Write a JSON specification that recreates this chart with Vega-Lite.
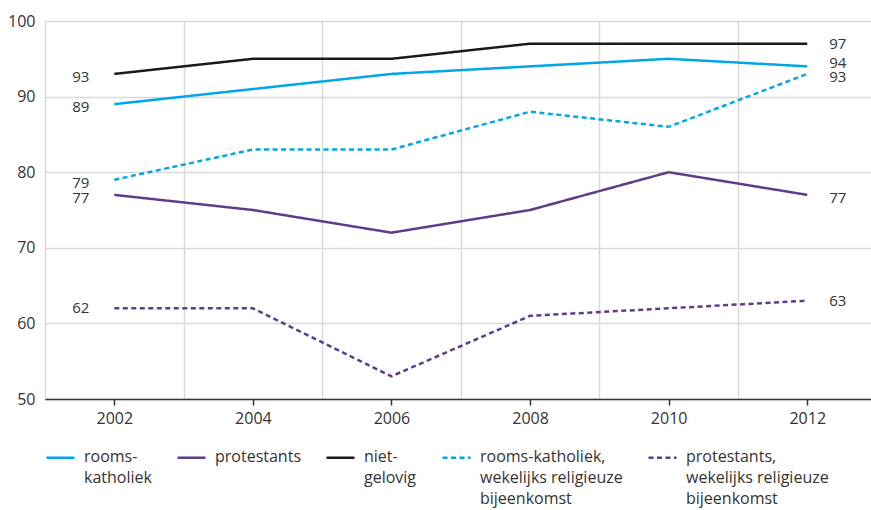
{
  "$schema": "https://vega.github.io/schema/vega-lite/v6.json",
  "width": 826,
  "height": 378,
  "autosize": {"type": "none"},
  "padding": {"left": 45, "top": 21, "right": 0, "bottom": 111},
  "config": {
    "view": {"stroke": null},
    "font": "Open Sans",
    "axis": {"labelFont": "Open Sans", "labelFontSize": 16, "labelColor": "#333333", "gridColor": "#d9d9d9", "gridWidth": 1.5}
  },
  "data": {
    "values": [
      {"year": 2002, "series": "rooms-katholiek", "value": 89},
      {"year": 2004, "series": "rooms-katholiek", "value": 91},
      {"year": 2006, "series": "rooms-katholiek", "value": 93},
      {"year": 2008, "series": "rooms-katholiek", "value": 94},
      {"year": 2010, "series": "rooms-katholiek", "value": 95},
      {"year": 2012, "series": "rooms-katholiek", "value": 94},
      {"year": 2002, "series": "protestants", "value": 77},
      {"year": 2004, "series": "protestants", "value": 75},
      {"year": 2006, "series": "protestants", "value": 72},
      {"year": 2008, "series": "protestants", "value": 75},
      {"year": 2010, "series": "protestants", "value": 80},
      {"year": 2012, "series": "protestants", "value": 77},
      {"year": 2002, "series": "niet-gelovig", "value": 93},
      {"year": 2004, "series": "niet-gelovig", "value": 95},
      {"year": 2006, "series": "niet-gelovig", "value": 95},
      {"year": 2008, "series": "niet-gelovig", "value": 97},
      {"year": 2010, "series": "niet-gelovig", "value": 97},
      {"year": 2012, "series": "niet-gelovig", "value": 97},
      {"year": 2002, "series": "rooms-katholiek, wekelijks religieuze bijeenkomst", "value": 79},
      {"year": 2004, "series": "rooms-katholiek, wekelijks religieuze bijeenkomst", "value": 83},
      {"year": 2006, "series": "rooms-katholiek, wekelijks religieuze bijeenkomst", "value": 83},
      {"year": 2008, "series": "rooms-katholiek, wekelijks religieuze bijeenkomst", "value": 88},
      {"year": 2010, "series": "rooms-katholiek, wekelijks religieuze bijeenkomst", "value": 86},
      {"year": 2012, "series": "rooms-katholiek, wekelijks religieuze bijeenkomst", "value": 93},
      {"year": 2002, "series": "protestants, wekelijks religieuze bijeenkomst", "value": 62},
      {"year": 2004, "series": "protestants, wekelijks religieuze bijeenkomst", "value": 62},
      {"year": 2006, "series": "protestants, wekelijks religieuze bijeenkomst", "value": 53},
      {"year": 2008, "series": "protestants, wekelijks religieuze bijeenkomst", "value": 61},
      {"year": 2010, "series": "protestants, wekelijks religieuze bijeenkomst", "value": 62},
      {"year": 2012, "series": "protestants, wekelijks religieuze bijeenkomst", "value": 63}
    ]
  },
  "resolve": {"axis": {"x": "independent"}},
  "layer": [
    {
      "mark": {"type": "line", "strokeWidth": 2.5, "clip": false},
      "encoding": {
        "x": {"field": "year", "type": "quantitative", "scale": {"domain": [2001, 2012.92], "nice": false, "zero": false},
          "axis": {"orient": "bottom", "values": [2001, 2003, 2005, 2007, 2009, 2011], "grid": true, "labels": false, "ticks": false, "domain": false, "title": null, "format": "d"}},
        "y": {"field": "value", "type": "quantitative", "scale": {"domain": [50, 100], "nice": false, "zero": false},
          "axis": {"values": [50, 60, 70, 80, 90, 100], "grid": true, "domain": false, "ticks": false, "labelPadding": 10, "title": null}},
        "color": {"field": "series", "type": "nominal",
          "scale": {"domain": ["rooms-katholiek", "protestants", "niet-gelovig", "rooms-katholiek, wekelijks religieuze bijeenkomst", "protestants, wekelijks religieuze bijeenkomst"],
                    "range": ["#00a6e6", "#5c3d8a", "#1a1a1a", "#00a6e6", "#5c3d8a"]},
          "legend": {"orient": "none", "legendX": 0, "legendY": 421, "direction": "horizontal", "columns": 5, "title": null,
            "symbolType": "stroke", "symbolSize": 784, "symbolStrokeWidth": 2.5, "columnPadding": 20,
            "labelFont": "Open Sans", "labelFontSize": 16, "labelColor": "#333333", "labelLimit": 300, "labelOffset": 8,
            "labelBaseline": "top",
            "labelExpr": "{'rooms-katholiek': ['rooms-', 'katholiek', ' '], 'protestants': ['protestants', ' ', ' '], 'niet-gelovig': ['niet-', 'gelovig', ' '], 'rooms-katholiek, wekelijks religieuze bijeenkomst': ['rooms-katholiek,', 'wekelijks religieuze', 'bijeenkomst'], 'protestants, wekelijks religieuze bijeenkomst': ['protestants,', 'wekelijks religieuze', 'bijeenkomst']}[datum.label]",
            "encode": {"labels": {"update": {"lineHeight": {"value": 21}, "dy": {"value": -9}}}}}},
        "strokeDash": {"field": "series", "type": "nominal",
          "scale": {"domain": ["rooms-katholiek", "protestants", "niet-gelovig", "rooms-katholiek, wekelijks religieuze bijeenkomst", "protestants, wekelijks religieuze bijeenkomst"],
                    "range": [[1, 0], [1, 0], [1, 0], [5, 3.5], [5, 3.5]]},
          "legend": null}
      }
    },
    {
      "mark": {"type": "line", "opacity": 0},
      "encoding": {
        "x": {"field": "year", "type": "quantitative",
          "axis": {"orient": "bottom", "values": [2002, 2004, 2006, 2008, 2010, 2012], "format": "d", "grid": false, "domain": true, "domainColor": "#333333", "domainWidth": 1.5, "ticks": true, "tickColor": "#333333", "tickWidth": 1.5, "tickSize": 6, "labelPadding": 5, "title": null}},
        "y": {"field": "value", "type": "quantitative"},
        "detail": {"field": "series"}
      }
    },
    {
      "transform": [{"filter": "datum.year == 2002 && datum.series != 'protestants, wekelijks religieuze bijeenkomst'"}],
      "mark": {"type": "text", "align": "right", "dx": -25, "dy": 3, "fontSize": 15, "color": "#333333", "font": "Open Sans"},
      "encoding": {"x": {"field": "year", "type": "quantitative", "axis": null}, "y": {"field": "value", "type": "quantitative"}, "text": {"field": "value"}}
    },
    {
      "transform": [{"filter": "datum.year == 2002 && datum.series == 'protestants, wekelijks religieuze bijeenkomst'"}],
      "mark": {"type": "text", "align": "right", "dx": -25, "dy": 0, "fontSize": 15, "color": "#333333", "font": "Open Sans"},
      "encoding": {"x": {"field": "year", "type": "quantitative", "axis": null}, "y": {"field": "value", "type": "quantitative"}, "text": {"field": "value"}}
    },
    {
      "transform": [{"filter": "datum.year == 2012 && (datum.series == 'protestants' || datum.series == 'rooms-katholiek, wekelijks religieuze bijeenkomst')"}],
      "mark": {"type": "text", "align": "left", "dx": 22, "dy": 3, "fontSize": 15, "color": "#333333", "font": "Open Sans"},
      "encoding": {"x": {"field": "year", "type": "quantitative", "axis": null}, "y": {"field": "value", "type": "quantitative"}, "text": {"field": "value"}}
    },
    {
      "transform": [{"filter": "datum.year == 2012 && (datum.series == 'niet-gelovig' || datum.series == 'protestants, wekelijks religieuze bijeenkomst')"}],
      "mark": {"type": "text", "align": "left", "dx": 22, "dy": 0, "fontSize": 15, "color": "#333333", "font": "Open Sans"},
      "encoding": {"x": {"field": "year", "type": "quantitative", "axis": null}, "y": {"field": "value", "type": "quantitative"}, "text": {"field": "value"}}
    },
    {
      "transform": [{"filter": "datum.year == 2012 && datum.series == 'rooms-katholiek'"}],
      "mark": {"type": "text", "align": "left", "dx": 22, "dy": -3, "fontSize": 15, "color": "#333333", "font": "Open Sans"},
      "encoding": {"x": {"field": "year", "type": "quantitative", "axis": null}, "y": {"field": "value", "type": "quantitative"}, "text": {"field": "value"}}
    }
  ]
}
